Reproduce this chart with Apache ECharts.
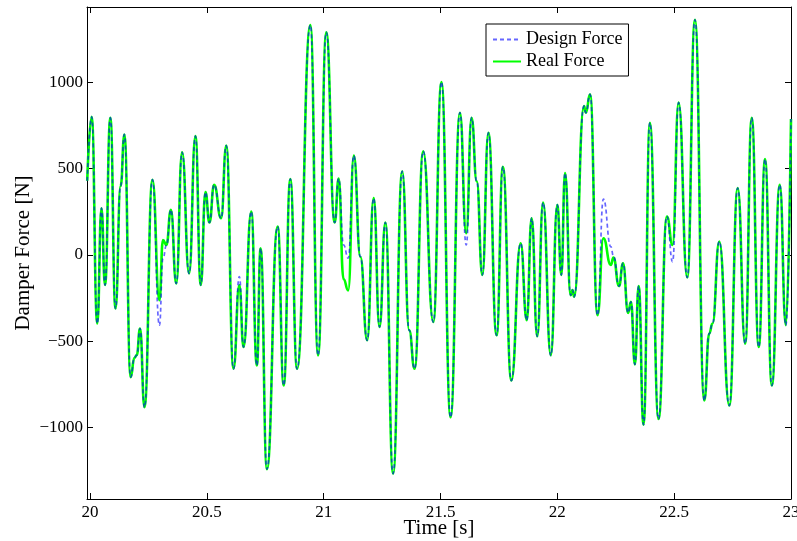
<!DOCTYPE html>
<html>
<head>
<meta charset="utf-8">
<script src="https://cdn.jsdelivr.net/npm/echarts@6/dist/echarts.min.js"></script>
<style>html,body{margin:0;padding:0;background:#fff}#c{width:797px;height:541px}</style>
</head>
<body>
<div id="c"></div>
<script>
// Time samples [s] (turning points)
const time = [
  19.988, 20.007, 20.031, 20.049, 20.064, 20.087, 20.109, 20.131, 20.147, 20.174,
  20.190, 20.200, 20.214, 20.233, 20.267, 20.297, 20.312, 20.327, 20.346, 20.369,
  20.394, 20.424, 20.451, 20.474, 20.494, 20.511, 20.531, 20.561, 20.583, 20.614,
  20.639, 20.657, 20.690, 20.714, 20.730, 20.757, 20.803, 20.829, 20.857, 20.886,
  20.943, 20.976, 21.011, 21.047, 21.064, 21.085, 21.105, 21.129, 21.157, 21.186,
  21.214, 21.239, 21.264, 21.297, 21.336, 21.366, 21.389, 21.426, 21.469, 21.504,
  21.543, 21.583, 21.610, 21.633, 21.655, 21.679, 21.705, 21.740, 21.767, 21.803,
  21.843, 21.869, 21.890, 21.914, 21.939, 21.972, 22.000, 22.017, 22.033, 22.057,
  22.065, 22.072, 22.114, 22.122, 22.140, 22.172, 22.197, 22.229, 22.240, 22.264,
  22.281, 22.303, 22.315, 22.332, 22.348, 22.369, 22.396, 22.433, 22.469, 22.493,
  22.519, 22.556, 22.589, 22.629, 22.650, 22.664, 22.693, 22.736, 22.772, 22.804,
  22.832, 22.862, 22.889, 22.918, 22.952, 22.978, 23.000
];
// Real Force [N]
const realForce = [
  430, 800, -397, 271, -174, 795, -310, 400, 698, -707,
  -595, -580, -426, -882, 436, -262, 87, 58, 262, -165,
  595, -107, 688, -174, 364, 188, 407, 213, 634, -659,
  -174, -533, 252, -640, 39, -1240, 165, -756, 440, -659,
  1331, -581, 1289, 188, 442, -140, -205, 576, -10, -494,
  329, -417, 188, -1266, 485, -436, -659, 601, -388, 1002,
  -940, 824, 126, 795, 426, -116, 707, -465, 510, -727,
  68, -378, 213, -471, 304, -581, 291, -116, 475, -233,
  -203, -242, 862, 824, 930, -349, 97, -58, -15, -180,
  -48, -335, -271, -634, -180, -983, 766, -950, 223, 58,
  882, -130, 1362, -843, -455, -397, 78, -872, 388, -514,
  795, -533, 556, -756, 407, -407, 787
];
// Design Force [N]
const designForce = [
  430, 800, -397, 271, -174, 795, -310, 400, 698, -707,
  -595, -580, -426, -882, 436, -407, -20, 55, 262, -165,
  595, -107, 688, -174, 364, 188, 407, 213, 634, -659,
  -125, -533, 252, -640, 39, -1240, 165, -756, 440, -659,
  1331, -581, 1289, 188, 442, 58, -19, 576, -10, -494,
  329, -417, 188, -1266, 485, -436, -659, 601, -388, 1002,
  -940, 824, 58, 795, 426, -116, 707, -465, 510, -727,
  68, -378, 213, -471, 304, -581, 291, -116, 475, -233,
  -203, -242, 862, 824, 930, -349, 324, 48, -5, -180,
  -48, -335, -271, -634, -180, -983, 766, -950, 223, -39,
  882, -130, 1362, -843, -455, -397, 78, -872, 388, -514,
  795, -533, 556, -756, 407, -407, 787
];
const xTicks = [20, 20.5, 21, 21.5, 22, 22.5, 23];
const yTicks = [-1000, -500, 0, 500, 1000];
const xMin = 19.987, xMax = 23.0;
const yMin = -1413, yMax = 1436;

const FONT = 'Liberation Serif';
const chart = echarts.init(document.getElementById('c'), null, {renderer: 'canvas'});

function axisCommon(extra) {
  return Object.assign({
    type: 'value',
    splitLine: {show: false},
    nameMoveOverlap: false,
    axisLine: {show: true, onZero: false, lineStyle: {color: '#000', width: 1}},
  }, extra);
}
const tickStyle = {color: '#000', width: 1};

const option = {
  animation: false,
  backgroundColor: '#fff',
  grid: {left: 87, top: 7, width: 704, height: 492, containLabel: false, outerBoundsMode: 'none'},
  legend: {
    data: ['Design Force', 'Real Force'],
    orient: 'vertical',
    left: 486, top: 24,
    padding: [5, 6, 4, 6],
    itemGap: 1,
    itemWidth: 28,
    itemHeight: 14,
    borderColor: '#000',
    borderWidth: 1,
    backgroundColor: '#fff',
    itemStyle: {opacity: 0},
    textStyle: {fontFamily: FONT, fontSize: 18, color: '#000', lineHeight: 21}
  },
  xAxis: [
    axisCommon({
      position: 'bottom', min: xMin, max: xMax,
      axisTick: {show: true, inside: true, length: 6, customValues: xTicks, lineStyle: tickStyle},
      axisLabel: {customValues: xTicks, color: '#000', fontFamily: FONT, fontSize: 17, margin: 5},
      name: 'Time [s]', nameLocation: 'middle', nameGap: 19,
      nameTextStyle: {fontFamily: FONT, fontSize: 21, color: '#000'}
    }),
    axisCommon({
      position: 'top', min: xMin, max: xMax,
      axisTick: {show: true, inside: true, length: 6, customValues: xTicks, lineStyle: tickStyle},
      axisLabel: {show: false}
    })
  ],
  yAxis: [
    axisCommon({
      position: 'left', min: yMin, max: yMax,
      axisTick: {show: true, inside: true, length: 6, customValues: yTicks, lineStyle: tickStyle},
      axisLabel: {customValues: yTicks, color: '#000', fontFamily: FONT, fontSize: 17, margin: 4,
        formatter: v => (v < 0 ? '\u2212' + Math.abs(v) : String(v))},
      name: 'Damper Force [N]', nameLocation: 'middle', nameGap: 53,
      nameTextStyle: {fontFamily: FONT, fontSize: 21, color: '#000'}
    }),
    axisCommon({
      position: 'right', min: yMin, max: yMax,
      axisTick: {show: true, inside: true, length: 6, customValues: yTicks, lineStyle: tickStyle},
      axisLabel: {show: false}
    })
  ],
  series: [
    {
      name: 'Real Force', type: 'line', xAxisIndex: 0, yAxisIndex: 0,
      data: time.map((t, i) => [t, realForce[i]]),
      showSymbol: false, symbol: 'none',
      smooth: 0.5, smoothMonotone: 'x',
      lineStyle: {color: '#00ff00', width: 2.6, type: 'solid'},
      itemStyle: {color: '#00ff00'},
      z: 2
    },
    {
      name: 'Design Force', type: 'line', xAxisIndex: 0, yAxisIndex: 0,
      data: time.map((t, i) => [t, designForce[i]]),
      showSymbol: false, symbol: 'none',
      smooth: 0.5, smoothMonotone: 'x',
      lineStyle: {color: '#0000ff', width: 1.7, type: [4, 3], opacity: 0.6},
      itemStyle: {color: '#0000ff'},
      z: 3
    }
  ]
};
chart.setOption(option);
</script>
</body>
</html>
